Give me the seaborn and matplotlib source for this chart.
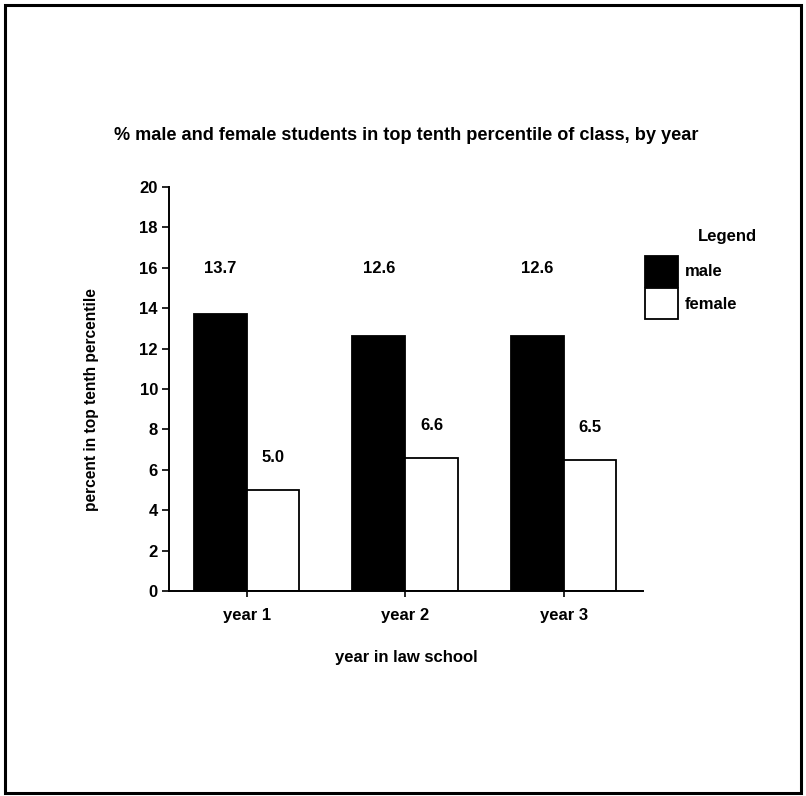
import matplotlib
matplotlib.use("Agg")
import matplotlib.pyplot as plt
import matplotlib.patches as mpatches
import pandas as pd
import seaborn as sns

years = ["year 1", "year 2", "year 3"]
male = [13.7, 12.6, 12.6]
female = [5.0, 6.6, 6.5]
series = ["male", "female"]
y_ticks = list(range(0, 21, 2))

df = pd.DataFrame(
    {
        "year": years * 2,
        "sex": ["male"] * len(years) + ["female"] * len(years),
        "pct": male + female,
    }
)

sns.set_style("ticks")
plt.rcParams["font.family"] = ["Liberation Sans", "DejaVu Sans"]
plt.rcParams["font.weight"] = "bold"
for key in ["text.color", "axes.labelcolor", "xtick.color", "ytick.color", "axes.edgecolor"]:
    plt.rcParams[key] = "black"

fig = plt.figure(figsize=(8.06, 7.96), dpi=100)
ax = fig.add_axes([169 / 806, 1 - 591 / 796, (643 - 169) / 806, (591 - 187) / 796])

sns.barplot(
    data=df,
    x="year",
    y="pct",
    hue="sex",
    hue_order=series,
    order=years,
    palette={"male": "black", "female": "white"},
    edgecolor="black",
    linewidth=1.3,
    width=0.665,
    errorbar=None,
    legend=True,
    ax=ax,
)

# male labels sit on one row above the tallest bar, female ones follow their bars
male_bars, female_bars = ax.containers
for bar, val in zip(male_bars, male):
    ax.annotate(
        f"{val:.1f}",
        (bar.get_x() + bar.get_width() / 2, max(male)),
        xytext=(0, 33),
        textcoords="offset points",
        ha="center",
        va="center",
        fontsize=12,
        fontweight="bold",
    )
ax.bar_label(female_bars, fmt="%.1f", padding=18, fontsize=12, fontweight="bold")

ax.set_ylim(0, 20)
ax.set_xlim(-0.49, 2.5)
ax.set_yticks(y_ticks)
ax.tick_params(axis="y", direction="out", length=5, width=1.2, labelsize=12, pad=3)
ax.tick_params(axis="x", direction="out", length=4, width=1.2, labelsize=12, pad=8)
for lab in ax.get_xticklabels() + ax.get_yticklabels():
    lab.set_fontweight("bold")
for side in ["left", "bottom"]:
    ax.spines[side].set_linewidth(1.4)
sns.despine(ax=ax)

ax.set_xlabel("year in law school", fontsize=12, fontweight="bold", labelpad=20)
ax.set_ylabel("percent in top tenth percentile", fontsize=11.2, fontweight="bold")
ax.yaxis.set_label_coords(-0.148, 0.473)
ax.set_title(
    "% male and female students in top tenth percentile of class, by year",
    fontsize=13.1,
    fontweight="bold",
    pad=34,
)

leg = ax.legend(
    loc="upper left",
    bbox_to_anchor=(645 / 806, 1 - 256 / 796),
    bbox_transform=fig.transFigure,
    frameon=False,
    fontsize=12,
    borderpad=0,
    borderaxespad=0,
    handlelength=2.0,
    handleheight=2.45,
    handletextpad=0.4,
    labelspacing=0.1,
)
for h in leg.legend_handles:
    h.set_edgecolor("black")
    h.set_linewidth(1.3)
fig.text(727 / 806, 1 - 237 / 796, "Legend", ha="center", va="center", fontsize=12, fontweight="bold")

fig.patches.append(
    mpatches.Rectangle(
        (5 / 806, 3 / 796),
        796 / 806,
        788 / 796,
        transform=fig.transFigure,
        fill=False,
        edgecolor="black",
        linewidth=2.2,
    )
)

fig.savefig("out.png", dpi=100)
